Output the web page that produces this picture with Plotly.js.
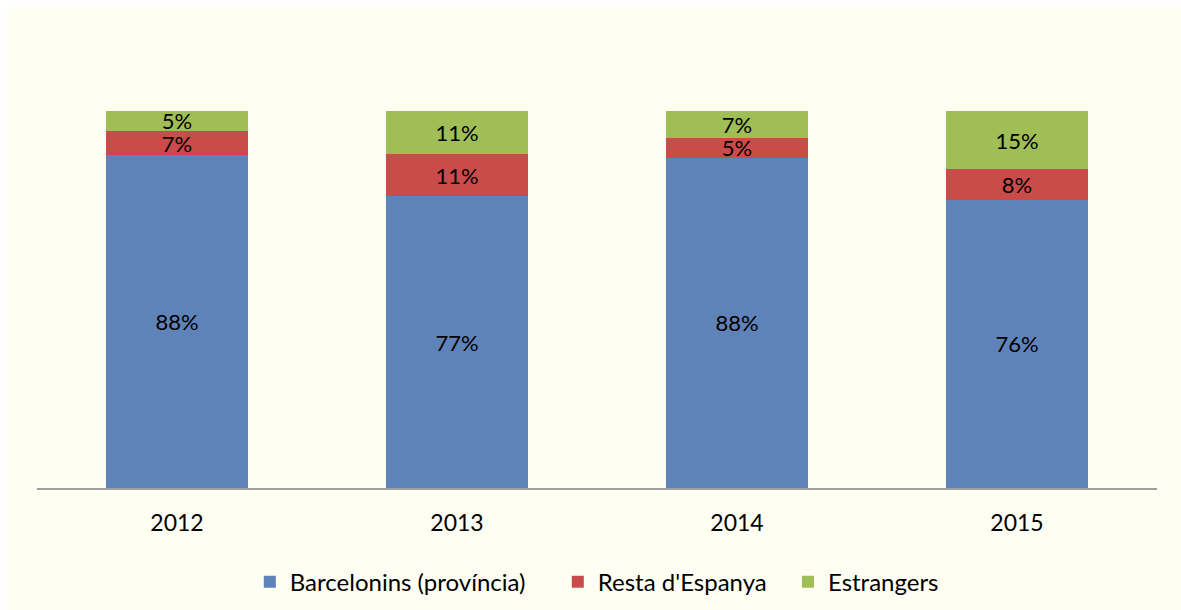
<!DOCTYPE html>
<html>
<head>
<meta charset="utf-8">
<script src="https://cdn.plot.ly/plotly-3.0.1.min.js"></script>
<style>
html,body{margin:0;padding:0;background:#ffffff;overflow:hidden;}
#chart{position:absolute;left:7px;top:7px;width:1174px;height:603px;}
</style>
</head>
<body>
<div id="chart"></div>
<script>
const years = ['2012', '2013', '2014', '2015'];
const barcelonins = [88.2, 77.4, 87.6, 76.4];
const restaEspanya = [6.6, 11.2, 5.2, 8.2];
const estrangers = [5.2, 11.4, 7.2, 15.4];
const seriesNames = ['Barcelonins (província)', "Resta d'Espanya", 'Estrangers'];

const FONT = 'Lato, "Open Sans", sans-serif';
function mk(name, vals, color, leg) {
  return {
    type: 'bar', name: name, x: years, y: vals, legend: leg,
    marker: {color: color, line: {width: 0}},
    texttemplate: '%{y:.0f}%', textposition: 'inside', insidetextanchor: 'middle',
    constraintext: 'none', cliponaxis: false,
    textfont: {family: FONT, size: 22, color: '#000000'},
    hoverinfo: 'skip'
  };
}
const data = [
  mk(seriesNames[0], barcelonins, '#5F82B8', 'legend'),
  mk(seriesNames[1], restaEspanya, '#CB4B4B', 'legend2'),
  mk(seriesNames[2], estrangers, '#9FBE55', 'legend3')
];
function leg(x) {
  return {orientation: 'h', x: x, xanchor: 'left', y: -0.25, yanchor: 'middle',
          font: {family: FONT, size: 24}, itemwidth: 30, bgcolor: 'rgba(0,0,0,0)'};
}
const layout = {
  barmode: 'stack', bargap: 0.49,
  width: 1174, height: 603,
  margin: {l: 30, r: 24, t: 104, b: 122, autoexpand: false},
  paper_bgcolor: '#FEFEF3', plot_bgcolor: '#FEFEF3',
  font: {family: FONT, size: 23, color: '#000000'},
  showlegend: true,
  legend: leg(0.190), legend2: leg(0.465), legend3: leg(0.6705),
  xaxis: {showline: true, linecolor: '#A0A0A0', linewidth: 2, ticks: '', showgrid: false,
          ticklabelstandoff: 13,
          tickfont: {family: FONT, size: 23}, fixedrange: true},
  yaxis: {range: [0, 100.001], visible: false, showgrid: false, zeroline: false, fixedrange: true}
};
Plotly.newPlot('chart', data, layout, {displayModeBar: false, staticPlot: true});
</script>
</body>
</html>
